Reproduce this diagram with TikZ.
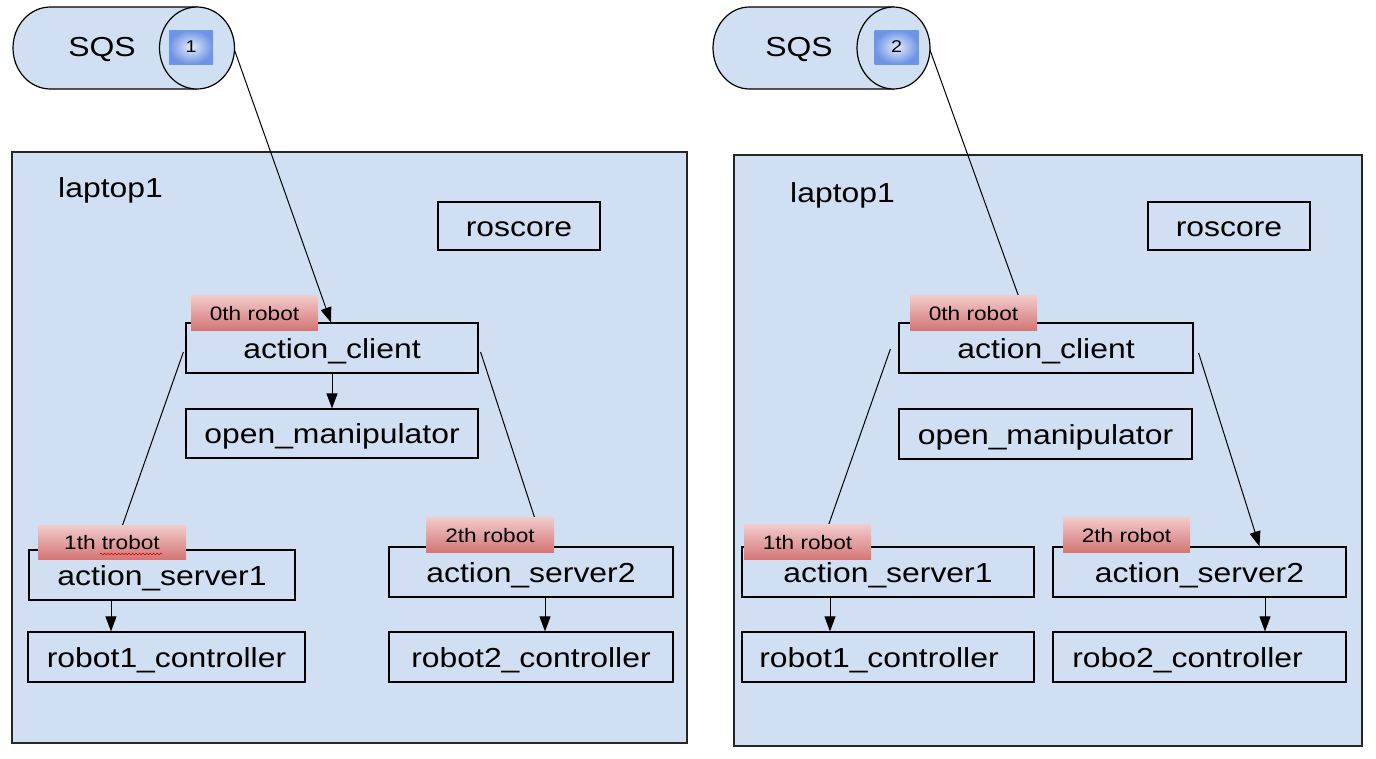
\documentclass[tikz,border=0pt]{standalone}
\usepackage{fontspec}
\setmainfont{Liberation Sans}[FakeStretch=1.16]
\usetikzlibrary{arrows.meta,decorations.pathmorphing}
\definecolor{bg}{RGB}{208,224,242}
\definecolor{badgetop}{RGB}{242,204,204}
\definecolor{badgebot}{RGB}{212,118,118}
\definecolor{qin}{RGB}{228,235,252}
\definecolor{qout}{RGB}{110,148,228}
\tikzset{
  panel/.style={draw=black!85, line width=1.3pt, fill=bg, inner sep=0pt},
  box/.style={draw=black, line width=1.2pt, fill=bg, inner sep=0pt, minimum height=50pt, text height=20pt, text depth=0pt, font=\fontsize{27.5}{30}\selectfont},
  badge/.style={top color=badgetop, bottom color=badgebot, draw=none, inner sep=0pt, minimum width=127pt, minimum height=35pt, text height=15.5pt, text depth=0pt, font=\fontsize{19.5}{22}\selectfont},
  qbox/.style={inner color=qin, outer color=qout, draw=none, inner sep=0pt, minimum width=44pt, minimum height=34pt, font=\fontsize{17}{20}\selectfont},
  title/.style={inner sep=0pt, font=\fontsize{27.5}{30}\selectfont},
  conn/.style={line width=1pt, black},
  arr/.style={conn, -{Triangle[length=15pt,width=11pt]}}
}
\begin{document}
\begin{tikzpicture}[x=1pt,y=-1pt]
\useasboundingbox (0,0) rectangle (1376,758);
\fill[white] (0,0) rectangle (1376,758);

% ---------- panels ----------
\node[panel, minimum width=675pt, minimum height=591pt] (lap1) at (349.5,447.5) {};
\node[panel, minimum width=628pt, minimum height=591pt] (lap2) at (1048,450.5) {};

% ---------- SQS 1 ----------
\draw[line width=1.2pt, fill=bg] (197,7) -- (50.5,7) arc[start angle=90, end angle=270, x radius=37.5, y radius=-41] -- (197,89);
\draw[line width=1.2pt, fill=bg] (197,48) ellipse[x radius=37.5, y radius=41];
\node[title] (sqs1t) at (102,49) {SQS};
\node[qbox] (q1) at (191,47) {1};
\coordinate (sqs1) at (234.5,50);

% ---------- SQS 2 ----------
\draw[line width=1.2pt, fill=bg] (893.5,7) -- (749.5,7) arc[start angle=90, end angle=270, x radius=36.5, y radius=-41] -- (893.5,89);
\draw[line width=1.2pt, fill=bg] (893.5,48) ellipse[x radius=36.5, y radius=41];
\node[title] (sqs2t) at (799,49) {SQS};
\node[qbox] (q2) at (896.5,47) {2};
\coordinate (sqs2) at (930,50);

% ---------- left laptop ----------
\node[title, anchor=west] (lt1) at (58,190) {laptop1};
\node[box, minimum width=162pt, minimum height=48pt] (rc1) at (519,226) {roscore};
\node[box, minimum width=292pt] (ac1) at (332,348) {action\_client};
\node[box, minimum width=292pt, minimum height=49pt] (om1) at (332,433.5) {open\_manipulator};
\node[box, minimum width=266pt] (as1) at (162,575) {action\_server1};
\node[box, minimum width=277pt] (rb1) at (166.5,657) {robot1\_controller};
\node[box, minimum width=284pt] (as2) at (531,572) {action\_server2};
\node[box, minimum width=284pt] (rb2) at (531,657) {robot2\_controller};

\draw[arr] (sqs1) -- ([xshift=-1pt]ac1.north);
\draw[arr] (ac1.south) -- (om1.north);
\draw[conn] ([xshift=-2pt,yshift=-4pt]ac1.west) -- ([xshift=-48pt]as1.north);
\draw[conn] ([xshift=2pt,yshift=-4pt]ac1.east) -- ([xshift=13pt]as2.north);
\draw[arr] ([xshift=-51pt]as1.south) -- ([xshift=-55.5pt]rb1.north);
\draw[arr] ([xshift=14pt]as2.south) -- ([xshift=14pt]rb2.north);

\node[badge] (b0l) at (254.5,312.5) {0th robot};
\node[badge, minimum width=148pt, minimum height=34pt] (b1l) at (112,542) {1th trobot};
\draw[red!85!black, line width=0.6pt, decorate, decoration={snake, amplitude=0.9pt, segment length=3.5pt}] (100,554) -- (162,554);
\node[badge, minimum width=128pt] (b2l) at (490,534.5) {2th robot};

% ---------- right laptop ----------
\node[title, anchor=west] (lt2) at (790,195) {laptop1};
\node[box, minimum width=162pt, minimum height=48pt] (rc2) at (1229,226) {roscore};
\node[box, minimum width=294pt] (ac2) at (1046,348) {action\_client};
\node[box, minimum width=293pt] (om2) at (1045.5,434) {open\_manipulator};
\node[box, minimum width=292pt] (as3) at (888,572) {action\_server1};
\node[box, minimum width=292pt] (rb3) at (888,657) {\hspace*{-18pt}robot1\_controller};
\node[box, minimum width=293pt] (as4) at (1199.5,572) {action\_server2};
\node[box, minimum width=293pt] (rb4) at (1199.5,657) {\hspace*{-24pt}robo2\_controller};

\draw[conn] (sqs2) -- ([xshift=-18pt]ac2.north);
\draw[conn] ([xshift=-8pt,yshift=-1pt]ac2.west) -- ([xshift=-67pt]as3.north);
\draw[arr] ([xshift=5pt,yshift=-5pt]ac2.east) -- ([xshift=60pt]as4.north);
\draw[arr] ([xshift=-58pt]as3.south) -- ([xshift=-58pt]rb3.north);
\draw[arr] ([xshift=65.5pt]as4.south) -- ([xshift=65.5pt]rb4.north);

\node[badge] (b0r) at (973.5,312.5) {0th robot};
\node[badge] (b1r) at (807.5,542) {1th robot};
\node[badge] (b2r) at (1126.5,534.5) {2th robot};
\end{tikzpicture}
\end{document}
